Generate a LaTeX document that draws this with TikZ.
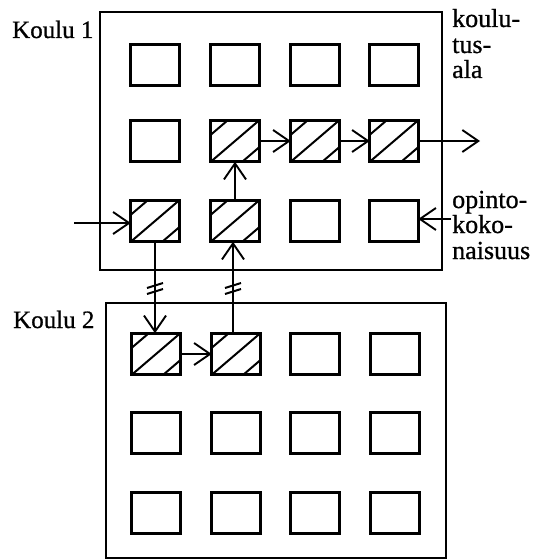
\documentclass[tikz,border=0pt]{standalone}
\usepackage{fontspec}
\setmainfont{Liberation Serif}[BoldFont={Liberation Serif},BoldFeatures={FakeBold=0.8}]
\usetikzlibrary{arrows.meta,calc}
\begin{document}
\begin{tikzpicture}[x=1pt,y=-1pt,
  box/.style={draw, line width=3pt, minimum width=48.5pt, minimum height=41.5pt, inner sep=0pt, outer sep=0pt},
  hatch/.style={box, path picture={
    \draw[line width=2pt] (path picture bounding box.south west) -- (path picture bounding box.north east);
    \draw[line width=2pt] ($(path picture bounding box.north west)!0.35!(path picture bounding box.south west)$) -- ($(path picture bounding box.north west)!0.35!(path picture bounding box.north east)$);
    \draw[line width=2pt] ($(path picture bounding box.south east)!0.35!(path picture bounding box.south west)$) -- ($(path picture bounding box.south east)!0.35!(path picture bounding box.north east)$);
  }},
  frame/.style={draw, line width=2pt, inner sep=0pt, outer sep=0pt},
  conn/.style={line width=1.9pt, -{Straight Barb[length=16pt,width=22pt,line width=1.9pt]}},
  tick/.style={line width=2pt},
  lab/.style={anchor=base west, inner sep=0pt, font=\fontsize{25}{25}\selectfont\bfseries},
  rlab/.style={lab, font=\fontsize{26}{26}\selectfont\bfseries}
]
\useasboundingbox (0,0) rectangle (548,559);
% frames
\node[frame, minimum width=342pt, minimum height=258pt] (k1) at (271,141) {};
\node[frame, minimum width=340pt, minimum height=255pt] (k2) at (276,430) {};
% school 1 squares
\node[box]   (r11) at (155,65) {};
\node[box]   (r12) at (235,65) {};
\node[box]   (r13) at (315,65) {};
\node[box]   (r14) at (394,65) {};
\node[box]   (r21) at (155,141) {};
\node[hatch] (r22) at (235,141) {};
\node[hatch] (r23) at (315,141) {};
\node[hatch] (r24) at (394,141) {};
\node[hatch] (r31) at (155,221) {};
\node[hatch] (r32) at (235,221) {};
\node[box]   (r33) at (315,221) {};
\node[box]   (r34) at (394,221) {};
% school 2 squares
\node[hatch] (s11) at (156,354) {};
\node[hatch] (s12) at (236,354) {};
\node[box]   (s13) at (315,354) {};
\node[box]   (s14) at (395,354) {};
\node[box]   (s21) at (156,433) {};
\node[box]   (s22) at (236,433) {};
\node[box]   (s23) at (315,433) {};
\node[box]   (s24) at (395,433) {};
\node[box]   (s31) at (156,513) {};
\node[box]   (s32) at (236,513) {};
\node[box]   (s33) at (315,513) {};
\node[box]   (s34) at (395,513) {};
% labels
\node[lab] (t1) at (12,38) {Koulu 1};
\node[lab] (t2) at (13,328) {Koulu 2};
\node[rlab] (ka) at (452,27) {koulu-};
\node[rlab] (kb) at (452,53) {tus-};
\node[rlab] (kc) at (452,78) {ala};
\node[rlab] (oa) at (452,208) {opinto-};
\node[rlab] (ob) at (452,233) {koko-};
\node[rlab] (oc) at (452,259) {naisuus};
% connectors
\coordinate (in1) at (74,223);
\coordinate (out1) at (480,141);
\coordinate (op1) at (451,219);
\draw[conn] (in1) -- (in1 -| r31.west);
\draw[conn] (r31.south) -- (r31.south |- s11.north);
\draw[conn] (s11.east) -- (s12.west);
\draw[conn] (s12.north -| 233,0) -- (r32.south -| 233,0);
\draw[conn] (r32.north) -- (r22.south);
\draw[conn] (r22.east) -- (r23.west);
\draw[conn] (r23.east) -- (r24.west);
\draw[conn] (r24.east) -- (out1);
\draw[conn] (op1) -- (op1 -| r34.east);
% break ticks
\coordinate (m1) at (155,288.5);
\coordinate (m2) at (233,288.5);
\draw[tick] ($(m1)+(-8,-0.5)$) -- ($(m1)+(8,-5.5)$);
\draw[tick] ($(m1)+(-8,5.5)$) -- ($(m1)+(8,0.5)$);
\draw[tick] ($(m2)+(-8,-0.5)$) -- ($(m2)+(8,-5.5)$);
\draw[tick] ($(m2)+(-8,5.5)$) -- ($(m2)+(8,0.5)$);
\end{tikzpicture}
\end{document}
